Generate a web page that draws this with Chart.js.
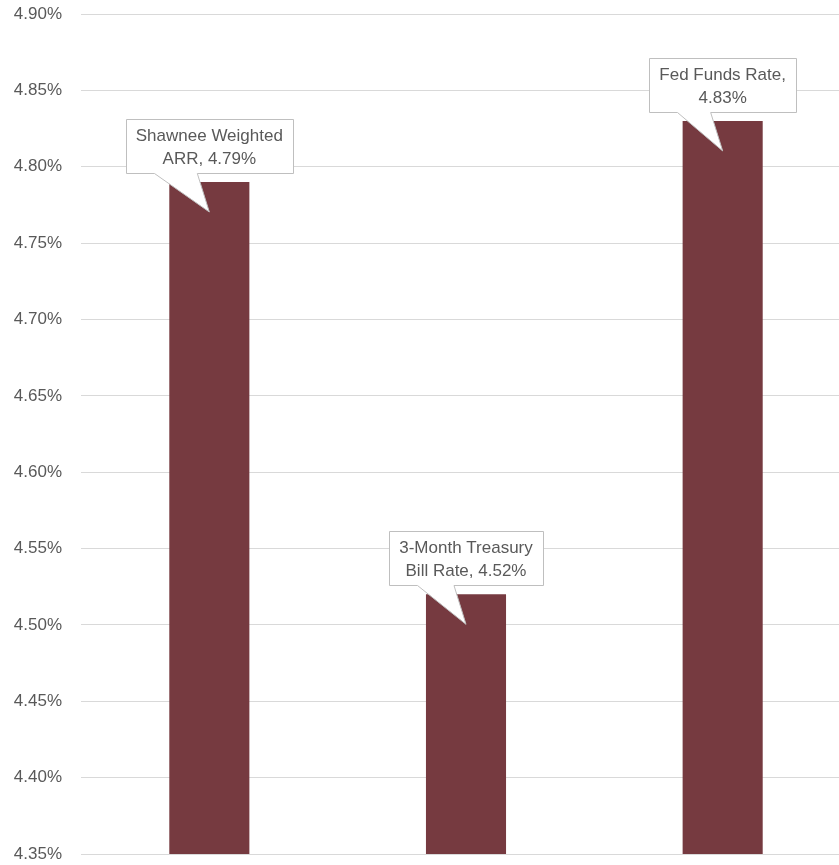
<!DOCTYPE html>
<html>
<head>
<meta charset="utf-8">
<script src="https://cdn.jsdelivr.net/npm/chart.js@4"></script>
<style>
  html, body { margin: 0; padding: 0; background: #fff; overflow: hidden; }
  #wrap { width: 851px; height: 865px; }
</style>
</head>
<body>
<div id="wrap"><canvas id="rates" width="851" height="865"></canvas></div>
<script>
// categories (split where the callout wraps) and values in %
const categories = [
    ['Shawnee Weighted', 'ARR'],
    ['3-Month Treasury', 'Bill Rate'],
    ['Fed Funds Rate']
];
const rates = [4.79, 4.52, 4.83];
const yTicks = [4.35, 4.40, 4.45, 4.50, 4.55, 4.60, 4.65, 4.70, 4.75, 4.80, 4.85, 4.90];

const barColor = '#763a40';
const textColor = '#595959';
const fontFamily = '"Liberation Sans", Arial, sans-serif';

function calloutLines(i) {
    const lines = categories[i].slice();
    const val = rates[i].toFixed(2) + '%';
    if (lines.length === 1) {
        lines[0] += ',';
        lines.push(val);
    } else {
        lines[lines.length - 1] += ', ' + val;
    }
    return lines;
}

// white callout boxes with a pointer into each bar
const calloutPlugin = {
    id: 'callouts',
    afterDatasetsDraw(chart) {
        const ctx = chart.ctx;
        const meta = chart.getDatasetMeta(0);
        ctx.save();
        ctx.font = '17px ' + fontFamily;
        meta.data.forEach((bar, i) => {
            const lines = calloutLines(i);
            const textW = Math.max(...lines.map(l => ctx.measureText(l).width));
            const w = Math.round(textW + 20);
            const h = 54;
            const left = Math.round(bar.x - w / 2) + 0.5;
            const right = left + w;
            const bottom = Math.round(bar.y - 9) + 0.5;
            const top = bottom - h;
            const baseL = left + 28;
            const baseR = bar.x - 12;
            const tipX = bar.x;
            const tipY = bar.y + 30;

            ctx.beginPath();
            ctx.moveTo(left, top);
            ctx.lineTo(right, top);
            ctx.lineTo(right, bottom);
            ctx.lineTo(baseR, bottom);
            ctx.lineTo(tipX, tipY);
            ctx.lineTo(baseL, bottom);
            ctx.lineTo(left, bottom);
            ctx.closePath();
            ctx.fillStyle = '#ffffff';
            ctx.fill();
            ctx.strokeStyle = '#bfbfbf';
            ctx.lineWidth = 1;
            ctx.stroke();

            ctx.fillStyle = textColor;
            ctx.textAlign = 'center';
            ctx.textBaseline = 'middle';
            lines.forEach((l, k) => {
                ctx.fillText(l, bar.x, top + 17 + k * 23);
            });
        });
        ctx.restore();
    }
};

const ctx = document.getElementById('rates').getContext('2d');
new Chart(ctx, {
    type: 'bar',
    data: {
        labels: categories.map(c => c.join(' ')),
        datasets: [{
            data: rates,
            backgroundColor: barColor,
            borderWidth: 0,
            categoryPercentage: 1,
            barPercentage: 0.312
        }]
    },
    options: {
        responsive: false,
        animation: false,
        layout: { padding: { top: 14, bottom: 11, left: 0, right: 0 } },
        plugins: {
            legend: { display: false },
            tooltip: { enabled: false }
        },
        scales: {
            x: { display: false },
            y: {
                min: yTicks[0],
                max: yTicks[yTicks.length - 1],
                afterBuildTicks: (scale) => {
                    scale.ticks = yTicks.map(v => ({ value: v }));
                },
                afterFit: (scale) => { scale.width = 81; },
                border: { display: false },
                grid: { color: '#d9d9d9', drawTicks: true, tickLength: 19, tickColor: 'rgba(0,0,0,0)', lineWidth: 1 },
                ticks: {
                    color: textColor,
                    padding: 0,
                    font: { size: 17, family: fontFamily },
                    callback: (v) => Number(v).toFixed(2) + '%'
                }
            }
        }
    },
    plugins: [calloutPlugin]
});
</script>
</body>
</html>
